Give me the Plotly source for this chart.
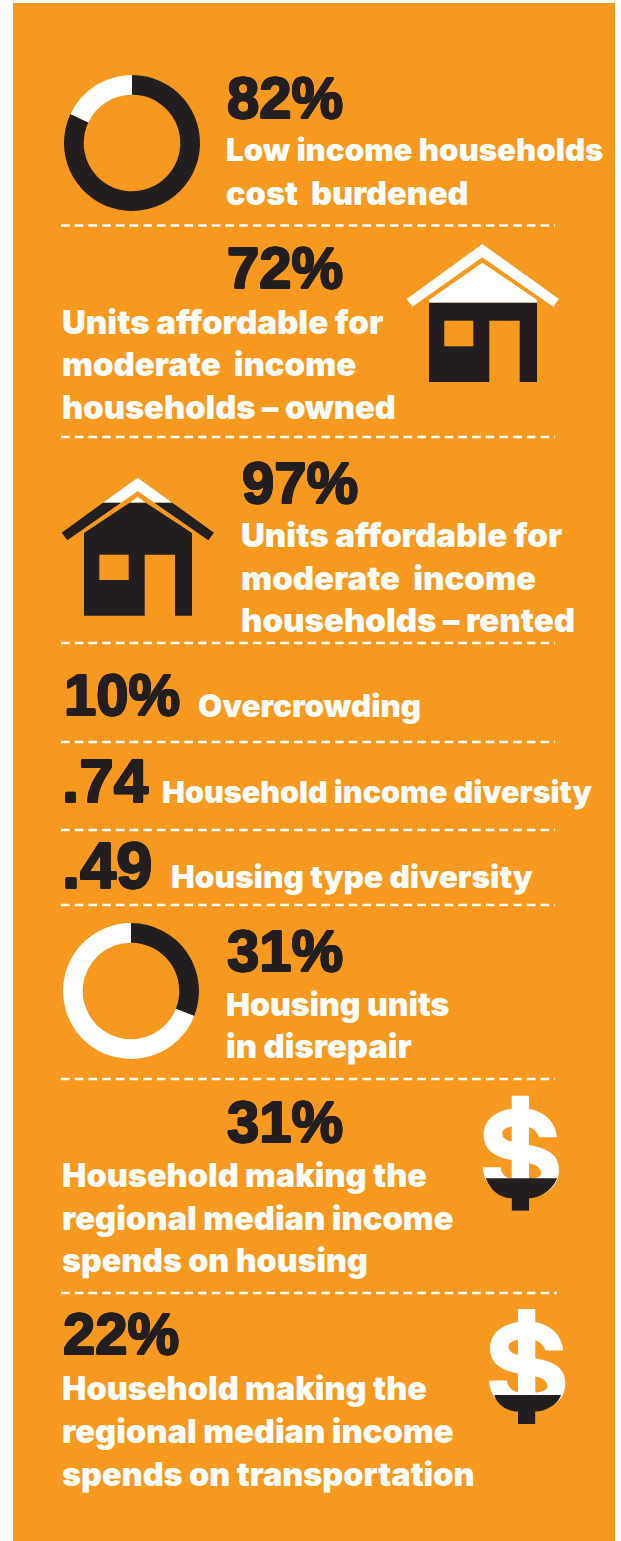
import plotly.graph_objects as go

W, H = 621, 1541
ORANGE = "#F8991F"
DARK = "#231F20"
WHITE = "#FFFFFF"

# --- data ---
cost_burdened = [82, 18]
disrepair = [31, 69]
big_numbers = ["82%", "72%", "97%", "10%", ".74", ".49", "31%", "31%", "22%"]
labels = [
    "Low income households", "cost  burdened",
    "Units affordable for", "moderate  income", "households – owned",
    "Units affordable for", "moderate  income", "households – rented",
    "Overcrowding", "Household income diversity", "Housing type diversity",
    "Housing units", "in disrepair",
    "Household making the", "regional median income", "spends on housing",
    "Household making the", "regional median income", "spends on transportation",
]

# --- layout ---
big_x = [226, 226, 241, 63, 61, 61, 226, 226, 62]
big_y = [97, 267, 482, 694, 780, 865, 950, 1121, 1333]
big_size = [58, 58, 58, 58, 62, 65, 58, 58, 58]
label_x = [225, 225, 61, 61, 61, 240, 240, 240, 197, 161, 170, 225, 225, 61, 61, 61, 61, 61, 61]
label_y = [150, 193, 322, 364, 407, 535, 578, 620, 706, 791, 876, 1004, 1046, 1175, 1218, 1260, 1388, 1431, 1474]
label_size = [31.2, 32.5, 33.1, 32.9, 32.7, 33.1, 33, 33, 31.3, 30.5, 31.6, 32, 32.8, 32.5, 32.7, 32.2, 32.5, 32.7, 32.4]
divider_y = [225.5, 437, 643, 742, 830, 905, 1079, 1293]
divider_end = [555, 555, 555, 555, 555, 555, 555, 557]


def poly(points, ox, oy, s=1 / 3):
    return "M" + " L".join(f"{ox + x * s:.1f},{oy + y * s:.1f}" for x, y in points) + " Z"


shapes = [
    dict(type="rect", x0=13, x1=615, y0=3, y1=1541, fillcolor=ORANGE, line_width=0, layer="below"),
]
for y, xe in zip(divider_y, divider_end):
    shapes.append(dict(type="line", x0=61, x1=xe, y0=y, y1=y,
                       line=dict(color=WHITE, width=2.4, dash="8.7px,5px"), layer="above"))


def add(path, color):
    shapes.append(dict(type="path", path=path, fillcolor=color, line_width=0, layer="above"))


# House, owned
ox, oy = 390, 230
add(poly([(277, 42), (507, 207), (490, 230), (277, 82), (67, 230), (50, 207)], ox, oy), WHITE)
add(poly([(277, 98), (441, 210), (441, 218), (117, 218), (117, 210)], ox, oy), WHITE)
add(poly([(117, 218), (441, 218), (441, 456), (389, 456), (389, 272), (298, 272), (298, 456), (117, 456)], ox, oy), DARK)
add(poly([(163, 272), (250, 272), (250, 349), (163, 349)], ox, oy), ORANGE)

# House, rented
ox, oy = 40, 460
add(poly([(293, 53), (397, 128), (343, 128), (293, 93), (243, 128), (189, 128)], ox, oy), WHITE)
add(poly([(189, 128), (243, 128), (82, 241), (65, 218)], ox, oy), DARK)
add(poly([(397, 128), (522, 218), (505, 241), (343, 128)], ox, oy), DARK)
add(poly([(293, 110), (317, 128), (269, 128)], ox, oy), WHITE)
add(poly([(269, 128), (317, 128), (456, 219), (456, 467), (405, 467), (405, 284), (314, 284), (314, 467), (132, 467), (132, 219)], ox, oy), DARK)
add(poly([(178, 284), (266, 284), (266, 360), (178, 360)], ox, oy), ORANGE)


# Dollar signs, in glyph units of a 3x crop
def dollar(ox, oy, split, bowl_l, bowl_r):
    def t(x, y):
        return f"{ox + x / 3:.1f},{oy + y / 3:.1f}"

    s = (
        f"M{t(291,172)} C{t(285,115)} {t(240,85)} {t(181,85)} C{t(115,85)} {t(71,115)} {t(71,165)} "
        f"C{t(71,210)} {t(105,232)} {t(155,240)} L{t(207,250)} C{t(232,255)} {t(243,265)} {t(243,280)} "
        f"C{t(243,292)} {t(225,299)} {t(181,299)} C{t(145,299)} {t(125,290)} {t(122,262)} L{t(68,262)} "
        f"C{t(72,320)} {t(115,355)} {t(181,355)} C{t(250,355)} {t(297,325)} {t(297,270)} "
        f"C{t(297,225)} {t(265,205)} {t(207,195)} L{t(155,185)} C{t(135,180)} {t(127,172)} {t(127,160)} "
        f"C{t(127,145)} {t(150,137)} {t(181,137)} C{t(210,137)} {t(232,150)} {t(237,172)} Z"
    )
    add(s, WHITE)
    add(f"M{t(155,47)} L{t(207,47)} L{t(207,392)} L{t(155,392)} Z", WHITE)
    bowl = (
        f"M{t(bowl_l,split)} L{t(bowl_r,split)} C{t(275,335)} {t(235,355)} {t(207,355)} "
        f"L{t(207,392)} L{t(155,392)} L{t(155,355)} C{t(125,355)} {t(92,335)} {t(bowl_l,split)} Z"
    )
    add(bowl, DARK)


dollar(460, 1080, 295, 77, 292)
dollar(466.3, 1293.3, 305, 84, 284)

fig = go.Figure()
for vals, dom_x, dom_y in [(cost_burdened, (64, 200), (75, 211)), (disrepair, (63, 199), (923, 1059))]:
    fig.add_trace(go.Pie(
        values=vals, sort=False, direction="clockwise", rotation=0, hole=0.71,
        marker=dict(colors=[DARK, WHITE], line=dict(width=0)),
        textinfo="none", hoverinfo="skip", showlegend=False,
        domain=dict(x=[dom_x[0] / W, dom_x[1] / W], y=[1 - dom_y[1] / H, 1 - dom_y[0] / H]),
    ))

annotations = []
for txt, x, y, sz in zip(big_numbers, big_x, big_y, big_size):
    annotations.append(dict(
        text=f"<b>{txt}</b>", x=x, y=y, xref="x", yref="y", showarrow=False,
        xanchor="left", yanchor="middle", borderpad=0,
        font=dict(family="Liberation Sans, Arial, sans-serif", size=sz, color=DARK,
                  shadow=", ".join(f"{a}px {b}px 0 {DARK}" for a, b in
                                   [(1, 0), (-1, 0), (0, 1), (0, -1), (0.7, 0.7), (-0.7, -0.7), (0.7, -0.7), (-0.7, 0.7)])),
    ))
for txt, x, y, sz in zip(labels, label_x, label_y, label_size):
    annotations.append(dict(
        text=txt, x=x, y=y, xref="x", yref="y", showarrow=False,
        xanchor="left", yanchor="middle", borderpad=0,
        font=dict(family="Inter, Liberation Sans, sans-serif", size=sz, color=WHITE, weight=900),
    ))

fig.update_layout(
    width=W, height=H, margin=dict(l=0, r=0, t=0, b=0),
    paper_bgcolor=WHITE, plot_bgcolor="rgba(0,0,0,0)", showlegend=False,
    xaxis=dict(range=[0, W], visible=False, fixedrange=True, domain=[0, 1]),
    yaxis=dict(range=[H, 0], visible=False, fixedrange=True, domain=[0, 1]),
    shapes=shapes, annotations=annotations,
)
fig.write_html("out.html", config=dict(displayModeBar=False),
               post_script="document.body.style.margin='0';")
